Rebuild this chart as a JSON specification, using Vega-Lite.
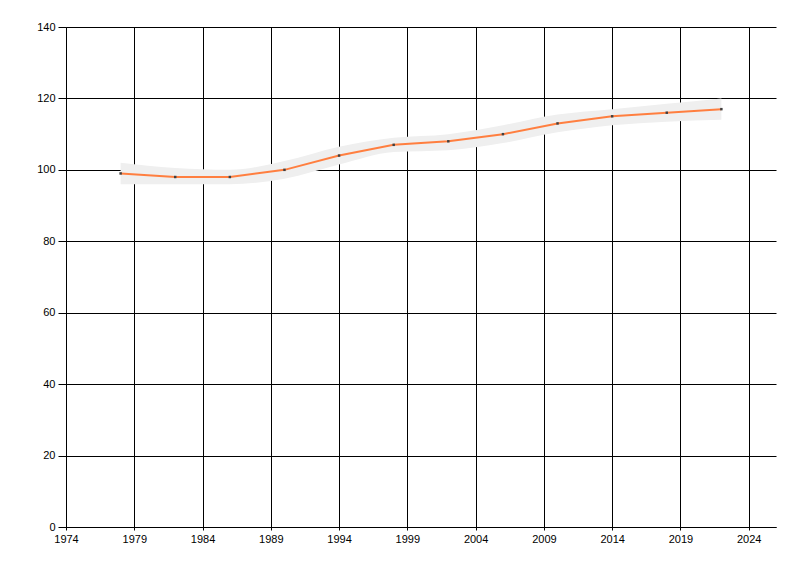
{
  "$schema": "https://vega.github.io/schema/vega-lite/v6.json",
  "width": 710,
  "height": 500,
  "autosize": "none",
  "padding": {"left": 66, "top": 27, "right": 24, "bottom": 49},
  "background": "#ffffff",
  "config": {
    "view": {"stroke": null},
    "axis": {
      "labelFont": "Liberation Sans",
      "labelFontSize": 11,
      "labelColor": "#000000",
      "domainColor": "#000000",
      "gridColor": "#000000",
      "gridOpacity": 1,
      "tickColor": "#000000",
      "title": null
    }
  },
  "data": {
    "values": [
      {"year": 1978, "value": 99, "lo": 96, "hi": 102},
      {"year": 1982, "value": 98, "lo": 96, "hi": 100.5},
      {"year": 1986, "value": 98, "lo": 96, "hi": 100},
      {"year": 1990, "value": 100, "lo": 97.5, "hi": 102.5},
      {"year": 1994, "value": 104, "lo": 101.5, "hi": 106.5},
      {"year": 1998, "value": 107, "lo": 105, "hi": 109},
      {"year": 2002, "value": 108, "lo": 105.5, "hi": 110},
      {"year": 2006, "value": 110, "lo": 107.5, "hi": 112.5},
      {"year": 2010, "value": 113, "lo": 110.5, "hi": 115.5},
      {"year": 2014, "value": 115, "lo": 112.5, "hi": 117},
      {"year": 2018, "value": 116, "lo": 113.5, "hi": 118.5},
      {"year": 2022, "value": 117, "lo": 114, "hi": 120}
    ]
  },
  "encoding": {
    "x": {
      "field": "year",
      "type": "quantitative",
      "scale": {"domain": [1974, 2026], "nice": false, "zero": false},
      "axis": {
        "values": [1974, 1979, 1984, 1989, 1994, 1999, 2004, 2009, 2014, 2019, 2024],
        "format": "d",
        "grid": true,
        "tickSize": 3,
        "labelPadding": 3,
        "labelFlush": false
      }
    }
  },
  "layer": [
    {
      "mark": {"type": "area", "interpolate": "monotone", "color": "#efefef", "opacity": 1},
      "encoding": {
        "y": {
          "field": "lo",
          "type": "quantitative",
          "scale": {"domain": [0, 140], "nice": false},
          "axis": {
            "values": [0, 20, 40, 60, 80, 100, 120, 140],
            "grid": true,
            "tickSize": 8,
            "labelPadding": 3
          }
        },
        "y2": {"field": "hi"}
      }
    },
    {
      "mark": {"type": "line", "interpolate": "linear", "color": "#ff7f40", "strokeWidth": 2},
      "encoding": {"y": {"field": "value", "type": "quantitative"}}
    },
    {
      "mark": {"type": "point", "shape": "square", "filled": true, "color": "#404040", "size": 6, "opacity": 1},
      "encoding": {"y": {"field": "value", "type": "quantitative"}}
    }
  ]
}
